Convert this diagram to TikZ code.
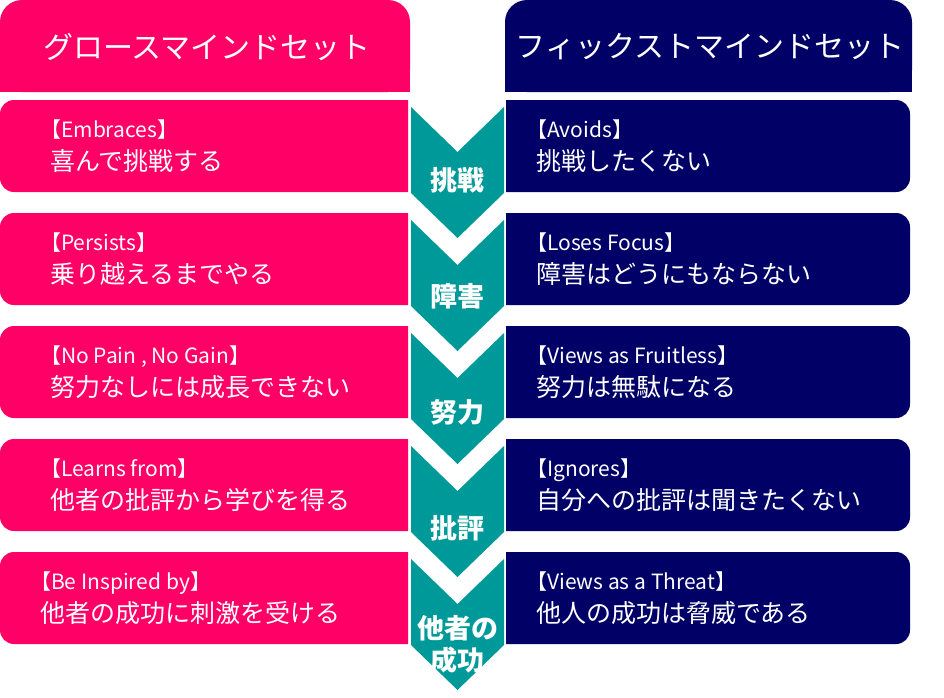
\documentclass[tikz,border=0pt]{standalone}
\usepackage{fontspec}
\setmainfont{Noto Sans CJK JP}
\usetikzlibrary{positioning}
\definecolor{growth}{HTML}{FF0066}
\definecolor{fixed}{HTML}{000066}
\definecolor{flow}{HTML}{009999}
\tikzset{
	lefttext/.style={anchor=west, align=left, text=white, font=\fontsize{21pt}{33pt}\selectfont, inner sep=0pt},
	chevtext/.style={text=white, font=\bfseries\fontsize{27pt}{32pt}\selectfont, align=center, inner sep=0pt},
	headtext/.style={text=white, font=\fontsize{30pt}{34pt}\selectfont, inner sep=0pt}
}
\newcommand{\biglabel}[1]{{\fontsize{25pt}{33pt}\selectfont #1}}
\begin{document}
\begin{tikzpicture}[x=1pt, y=-1pt]
	\useasboundingbox (0,0) rectangle (944,697);

	%Headers

	\fill [growth, rounded corners=22pt] (0,92) -- (0,0) -- (410,0) -- (410,92) -- cycle;
	\fill [growth] (0,60) rectangle (410,92);
	\fill [fixed, rounded corners=22pt] (505,92) -- (505,0) -- (912,0) -- (912,92) -- cycle;
	\fill [fixed] (505,60) rectangle (912,92);

	\node (GrowthHead) [headtext] at (207,47) {グロースマインドセット};
	\node (FixedHead) [headtext] at (710,47) {フィックストマインドセット};

	%Rows

	\foreach \i/\key/\la/\lb/\ra/\rb/\lx in {
		0/挑戦/{【Embraces】}/喜んで挑戦する/{【Avoids】}/挑戦したくない/40,
		1/障害/{【Persists】}/乗り越えるまでやる/{【Loses Focus】}/障害はどうにもならない/40,
		2/努力/{【No Pain , No Gain】}/努力なしには成長できない/{【Views as Fruitless】}/努力は無駄になる/40,
		3/批評/{【Learns from】}/他者の批評から学びを得る/{【Ignores】}/自分への批評は聞きたくない/40,
		4/{他者の\\成功}/{【Be Inspired by】}/他者の成功に刺激を受ける/{【Views as a Threat】}/他人の成功は脅威である/30}{
		\pgfmathsetmacro{\y}{113*\i}
		\fill [growth, rounded corners=14pt] (408,100+\y) -- (0,100+\y) -- (0,192+\y) -- (408,192+\y);
		\fill [growth] (380,100+\y) rectangle (408,192+\y);
		\fill [fixed, rounded corners=14pt] (506,100+\y) -- (910,100+\y) -- (910,192+\y) -- (506,192+\y);
		\fill [fixed] (506,100+\y) rectangle (530,192+\y);
		\fill [flow] (411,107+\y) -- (457.5,152+\y) -- (504,107+\y) -- (504,193+\y)
			-- (457.5,238+\y) -- (411,193+\y) -- cycle;

		\node (Left\i) [lefttext] at (\lx,146+\y) {\la\\\hspace{10pt}\biglabel{\lb}};
		\node (Right\i) [lefttext] at (526,146+\y) {\ra\\\hspace{10pt}\biglabel{\rb}};
		\node (Key\i) [chevtext] at (457.5,180+\y+12*\i/4) {\key};
	}
\end{tikzpicture}
\end{document}
